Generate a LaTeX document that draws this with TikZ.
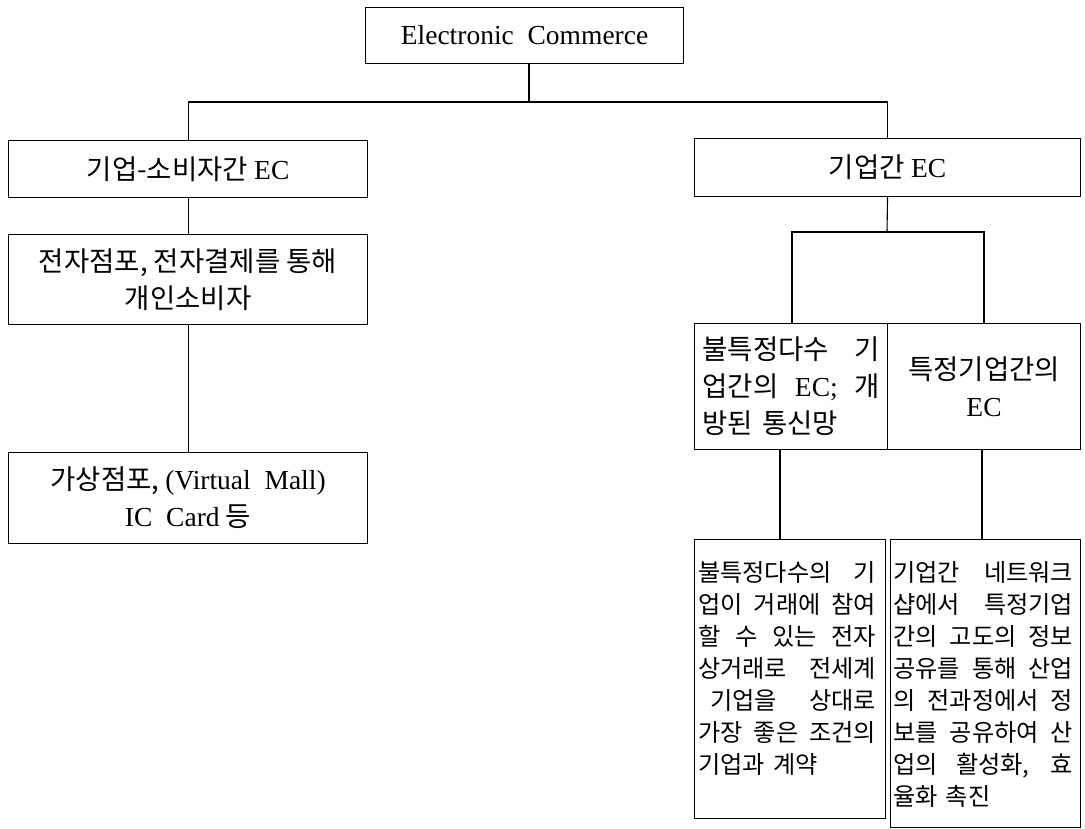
\documentclass[tikz,border=0pt]{standalone}
\usepackage{fontspec}
\setmainfont{Liberation Serif}
\newfontfamily\kr{Noto Sans CJK KR}
\newcommand\latn[1]{{\rmfamily #1}}
\newcommand\jl[1]{\makebox[\linewidth][s]{\spaceskip=0.25em plus 1fil minus 0.2em\relax #1}}
\tikzset{
  box/.style={draw, line width=1.1pt, inner sep=0pt, anchor=north west},
  conn/.style={line width=1.1pt},
  upper/.style={font=\kr\fontsize{27.5}{37}\selectfont, align=center},
  lower/.style={font=\kr\fontsize{24.2}{32}\selectfont, align=left, inner sep=0pt, anchor=north west},
}
\begin{document}
\begin{tikzpicture}[x=1pt,y=-1pt]
\useasboundingbox (0,0) rectangle (1085,829);
% level 0
\node[box, minimum width=318pt, minimum height=56pt, font=\fontsize{27.5}{32}\selectfont] (A) at (365,7) {Electronic\ \ Commerce};
% level 1
\node[box, upper, minimum width=359pt, minimum height=57pt] (B) at (8,140) {기업-소비자간 \latn{EC}};
\node[box, upper, minimum width=386pt, minimum height=58pt] (C) at (694,138) {기업간 \latn{EC}};
% left chain
\node[box, upper, minimum width=359pt, minimum height=90pt] (D) at (8,234) {전자점포, 전자결제를 통해\\개인소비자};
\node[box, upper, minimum width=359pt, minimum height=91pt] (E) at (8,452) {가상점포, \latn{(Virtual\ \ Mall)}\\\latn{IC\ \ Card} 등};
% right chain
\node[box, upper, align=left, text width=177pt, minimum width=193pt, minimum height=126pt] (F1) at (694,323)
  {\jl{불특정다수 기}\\\jl{업간의 \latn{EC;} 개}\\방된 통신망};
\node[box, upper, minimum width=193pt, minimum height=126pt] (F2) at (887,323) {특정기업간의\\\latn{EC}};
\node[box, minimum width=191pt, minimum height=279pt] (G1) at (694,539) {};
\node[box, minimum width=190pt, minimum height=288pt] (G2) at (890,539) {};
\node[lower, text width=178pt] (G1t) at (698,561)
  {\jl{불특정다수의 기}\\\jl{업이 거래에 참여}\\\jl{할 수 있는 전자}\\\jl{상거래로 전세계}\\\jl{\hspace*{12pt}기업을 상대로}\\\jl{가장 좋은 조건의}\\기업과 계약};
\node[lower, text width=180pt] (G2t) at (893,561)
  {\jl{기업간 네트워크}\\\jl{샵에서 특정기업}\\\jl{간의 고도의 정보}\\\jl{공유를 통해 산업}\\\jl{의 전과정에서 정}\\\jl{보를 공유하여 산}\\\jl{업의 활성화, 효}\\율화 촉진};
% connectors
\coordinate (j0) at (529,102);
\coordinate (jb) at (887,232);
\draw[conn] (A.south -| j0) -- (j0);
\draw[conn] (B.north) |- (j0) -| (C.north);
\draw[conn] (B.south) -- (D.north);
\draw[conn] (D.south) -- (E.north);
\draw[conn] (C.south) -- (jb);
\draw[conn] (F1.north -| 792,0) |- (jb) -| (F2.north -| 984,0);
\draw[conn] (F1.south -| 780,0) -- (G1.north -| 780,0);
\draw[conn] (F2.south -| 982,0) -- (G2.north -| 982,0);
\end{tikzpicture}
\end{document}
